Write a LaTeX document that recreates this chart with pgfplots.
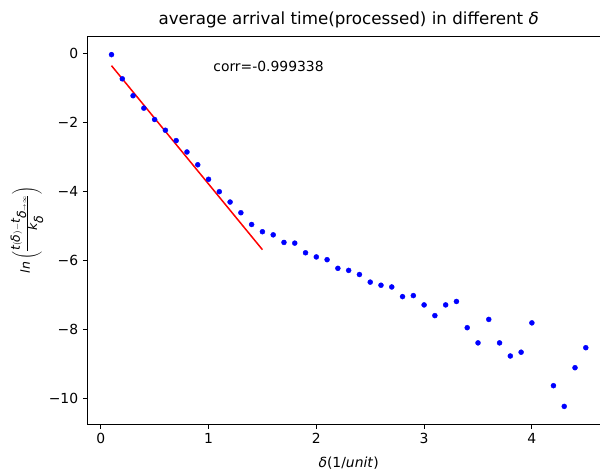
\documentclass[border=0pt]{standalone}
\usepackage{pgfplots}
\pgfplotsset{compat=1.18}
\usepackage{fontspec}
\setmainfont{DejaVu Sans}
\begin{document}
\begin{tikzpicture}
\fontsize{13.9bp}{16bp}\selectfont
\begin{axis}[
  scale only axis,
  width=521.7bp, height=388bp,
  xmin=-0.12, xmax=4.72,
  ymin=-10.73, ymax=0.51,
  xtick={0,1,2,3,4},
  xticklabels={0,1,2,3,4},
  ytick={0,-2,-4,-6,-8,-10},
  yticklabels={0,−2,−4,−6,−8,−10},
  tick align=outside,
  tick pos=left,
  major tick length=4.8bp,
  tick style={black, line width=0.8pt},
  axis line style={line width=0.8pt},
  ticklabel style={font=\fontsize{13.9bp}{16bp}\selectfont},
  xlabel={\textit{δ}(1/\textit{unit})},
  xlabel style={yshift=-3bp},
  ylabel={$\textit{ln}\left(\frac{\textit{t}(\textit{δ})-\textit{t}_{\textit{δ}\rightarrow\infty}}{\textit{k}_{\textit{δ}}}\right)$},
  ylabel style={yshift=-4bp, font=\fontsize{12.5bp}{14bp}\selectfont},
  title={average arrival time(processed) in different \textit{δ}},
  title style={font=\fontsize{16.7bp}{19bp}\selectfont, yshift=-3bp},
  clip=false,
]
\addplot[only marks, mark=*, mark size=2.5bp, blue, mark options={draw=blue, fill=blue}] coordinates {
(0.1,-0.03) (0.2,-0.73) (0.3,-1.22) (0.4,-1.58) (0.5,-1.91) (0.6,-2.22)
(0.7,-2.52) (0.8,-2.85) (0.9,-3.22) (1.0,-3.64) (1.1,-4.00) (1.2,-4.30)
(1.3,-4.61) (1.4,-4.95) (1.5,-5.16) (1.6,-5.25) (1.7,-5.47) (1.8,-5.49)
(1.9,-5.77) (2.0,-5.89) (2.1,-5.97) (2.2,-6.22) (2.3,-6.28) (2.4,-6.40)
(2.5,-6.62) (2.6,-6.71) (2.7,-6.76) (2.8,-7.04) (2.9,-7.01) (3.0,-7.28)
(3.1,-7.59) (3.2,-7.28) (3.3,-7.18) (3.4,-7.94) (3.5,-8.38) (3.6,-7.70)
(3.7,-8.38) (3.8,-8.76) (3.9,-8.65) (4.0,-7.80) (4.2,-9.62) (4.3,-10.22)
(4.4,-9.10) (4.5,-8.52)
};
\addplot[red, line width=1.5pt] coordinates {(0.1,-0.35) (1.5,-5.68)};
\node[anchor=base west, font=\fontsize{13.9bp}{16bp}\selectfont] at (axis cs:1.0,-0.52) {corr=-0.999338};
\end{axis}
\pgfresetboundingbox
\path[use as bounding box] ([shift={(-87.8bp,-46bp)}]current axis.south west) rectangle ([shift={(512.2bp,36bp)}]current axis.north west);
\end{tikzpicture}
\end{document}
